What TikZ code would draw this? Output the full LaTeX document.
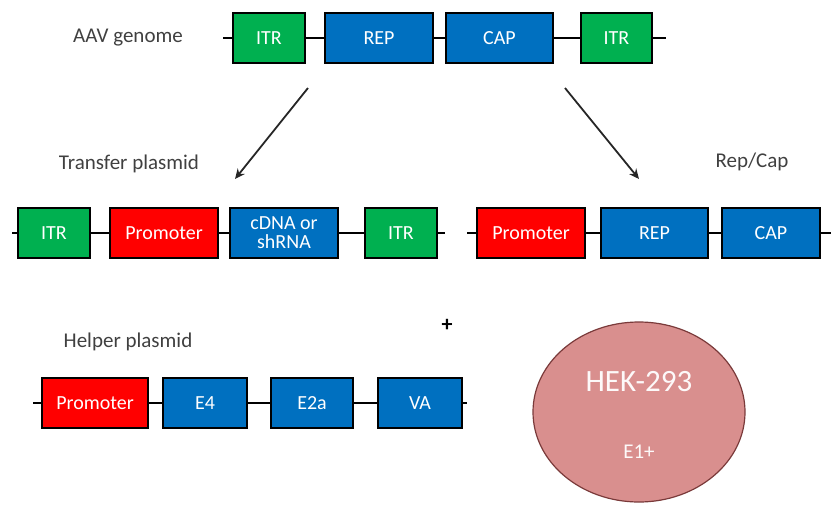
\documentclass[tikz,border=0pt]{standalone}
\usepackage{fontspec}
\setmainfont{Carlito}
\usetikzlibrary{arrows.meta,positioning,shapes.geometric}
\definecolor{itrgreen}{HTML}{00B050}
\definecolor{genblue}{HTML}{0070C0}
\definecolor{promred}{HTML}{FF0000}
\definecolor{cellpink}{HTML}{D98F8E}
\definecolor{celledge}{HTML}{7A3A3A}
\definecolor{labelgray}{HTML}{404040}

\begin{document}
\begin{tikzpicture}[x=1pt,y=-1pt,on grid,
    every node/.style={font=\fontsize{20}{22}\selectfont}]
  \tikzstyle{box}=[rectangle,draw=black,line width=1.8pt,minimum height=50pt,inner sep=0pt,text=white,align=center]
  \tikzstyle{boxG}=[box,fill=itrgreen,minimum width=72pt]
  \tikzstyle{boxB}=[box,fill=genblue,minimum width=108pt]
  \tikzstyle{boxR}=[box,fill=promred,minimum width=108pt]
  \tikzstyle{label}=[text=labelgray,font=\fontsize{21}{23}\selectfont]
  \tikzstyle{backbone}=[line width=2pt]

  \useasboundingbox (0,0) rectangle (831,504);

  % AAV genome
  \node[label] (aav) at (128,38) {AAV genome};
  \coordinate (g_l) at (223,38);
  \coordinate (g_r) at (666,38);
  \node[boxG] (g_itr1) at (269,38) {ITR};
  \node[boxB] (g_rep) at (379,38) {REP};
  \node[boxB,minimum width=107pt] (g_cap) at (499.5,38) {CAP};
  \node[boxG,minimum width=71pt] (g_itr2) at (616.5,38) {ITR};
  \draw[backbone] (g_l) -- (g_itr1) (g_itr1) -- (g_rep) (g_rep) -- (g_cap)
    (g_cap) -- (g_itr2) (g_itr2) -- (g_r);

  % transfer plasmid
  \node[label] (tp) at (129,164) {Transfer plasmid};
  \coordinate (t_l) at (12,233);
  \coordinate (t_r) at (445,233);
  \node[boxG] (t_itr1) at (54,233) {ITR};
  \node[boxR] (t_prom) at (164,233) {Promoter};
  \node[boxB,font=\fontsize{20}{19}\selectfont] (t_cdna) at (284,233) {cDNA or\\shRNA};
  \node[boxG] (t_itr2) at (401,233) {ITR};
  \draw[backbone] (t_l) -- (t_itr1) (t_itr1) -- (t_prom) (t_prom) -- (t_cdna)
    (t_cdna) -- (t_itr2) (t_itr2) -- (t_r);

  % rep/cap plasmid
  \node[label] (rc) at (752,162) {Rep/Cap};
  \coordinate (r_l) at (467,233);
  \coordinate (r_r) at (831,233);
  \node[boxR] (r_prom) at (531,233) {Promoter};
  \node[boxB,minimum width=107pt] (r_rep) at (654.5,233) {REP};
  \node[boxB,minimum width=98pt] (r_cap) at (771,233) {CAP};
  \draw[backbone] (r_l) -- (r_prom) (r_prom) -- (r_rep) (r_rep) -- (r_cap)
    (r_cap) -- (r_r);

  % helper plasmid
  \node[label] (hp) at (128,342) {Helper plasmid};
  \node[text=black,font=\fontsize{22}{22}\bfseries] (plus) at (447,325) {+};
  \coordinate (h_l) at (33,403);
  \coordinate (h_r) at (467,403);
  \node[boxR,minimum width=106pt] (h_prom) at (95,403) {Promoter};
  \node[boxB,minimum width=84pt] (h_e4) at (205,403) {E4};
  \node[boxB,minimum width=82pt] (h_e2a) at (312,403) {E2a};
  \node[boxB,minimum width=84pt] (h_va) at (420,403) {VA};
  \draw[backbone] (h_l) -- (h_prom) (h_prom) -- (h_e4) (h_e4) -- (h_e2a)
    (h_e2a) -- (h_va) (h_va) -- (h_r);

  % cell
  \node[ellipse,draw=celledge,line width=1.2pt,fill=cellpink,minimum width=212pt,
    minimum height=180pt] (hek) at (639,412) {};
  \node[text=white!95!cellpink,font=\fontsize{31}{31}\selectfont] (hekname) [above=30pt of hek] {HEK-293};
  \node[text=white!95!cellpink,font=\fontsize{21}{21}\selectfont] (e1) [below=40pt of hek] {E1+};

  % arrows
  \coordinate (a_l1) at (308,88);
  \coordinate (a_l2) at (235,179);
  \coordinate (a_r1) at (565,88);
  \coordinate (a_r2) at (639,179);
  \draw[-{Stealth[length=10pt,width=9pt]},line width=1.8pt,black!85] (a_l1) -- (a_l2);
  \draw[-{Stealth[length=10pt,width=9pt]},line width=1.8pt,black!85] (a_r1) -- (a_r2);
\end{tikzpicture}
\end{document}
